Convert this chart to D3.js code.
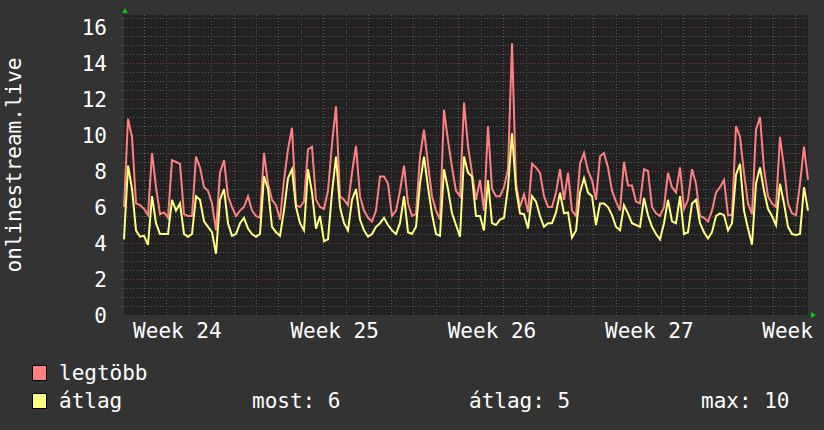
<!DOCTYPE html>
<html>
<head>
<meta charset="utf-8">
<script src="https://cdn.jsdelivr.net/npm/d3@7"></script>
<style>
  body { margin: 0; background: #333333; }
  svg { display: block; }
  text { font-family: "DejaVu Sans Mono", monospace; font-size: 21px; fill: #ffffff; }
</style>
</head>
<body>
<svg id="graph" width="824" height="430"></svg>
<script>
// legtöbb = max, átlag = average, sampled evenly from start to end
var maxVals = [
  6.0, 10.9, 9.9, 6.2, 6.1, 5.9, 5.55, 9.0, 7.1, 5.6,
  5.7, 5.4, 8.6, 8.5, 8.4, 5.6, 5.5, 5.5, 8.8, 8.2,
  7.1, 6.9, 6.2, 4.7, 7.9, 8.6, 6.6, 6.0, 5.5, 5.8,
  6.0, 6.6, 5.8, 5.5, 5.4, 9.0, 7.3, 6.4, 6.1, 5.3,
  7.5, 9.2, 10.4, 6.1, 6.0, 6.3, 9.2, 9.35, 6.4, 6.0,
  5.9, 6.9, 9.5, 11.6, 6.6, 6.4, 6.1, 7.9, 9.4, 6.6,
  5.8, 5.4, 5.2, 5.8, 7.7, 7.7, 7.3, 5.5, 5.8, 6.9,
  8.3, 6.2, 5.5, 5.6, 8.8, 10.3, 8.4, 6.6, 5.8, 5.3,
  11.4, 9.7, 8.2, 6.9, 6.6, 11.8, 9.4, 7.9, 6.4, 7.5,
  5.8, 10.5, 7.0, 6.6, 6.6, 7.1, 8.1, 15.1, 7.3, 6.0,
  6.7, 5.7, 8.4, 8.2, 7.9, 6.6, 6.0, 6.0, 6.8, 8.1,
  6.4, 7.9, 5.8, 5.5, 8.4, 9.0, 8.0, 7.5, 6.4, 8.8,
  9.0, 8.2, 6.9, 6.3, 5.8, 8.5, 7.2, 7.2, 6.3, 6.2,
  8.1, 8.0, 6.0, 5.65, 5.5, 6.0, 7.9, 7.1, 6.8, 8.2,
  5.9, 6.4, 8.1, 7.3, 5.5, 5.4, 5.2, 5.8, 6.8, 7.1,
  7.5, 5.55, 5.55, 10.5, 9.9, 7.9, 6.2, 5.6, 10.3, 11.0,
  8.1, 6.6, 6.2, 6.0, 9.9, 8.2, 6.2, 5.65, 5.55, 7.3,
  9.35, 7.5
];
var avgVals = [
  4.2, 8.3, 7.0, 4.7, 4.35, 4.4, 3.9, 6.6, 5.1, 4.5,
  4.5, 4.5, 6.4, 5.8, 6.2, 4.5, 4.35, 4.5, 6.6, 6.4,
  5.2, 4.9, 4.6, 3.4, 6.4, 7.0, 5.1, 4.4, 4.5, 5.1,
  5.4, 4.8, 4.5, 4.35, 4.5, 7.7, 7.0, 4.9, 4.6, 4.4,
  5.8, 7.6, 8.1, 6.0, 5.1, 4.7, 8.1, 6.8, 4.8, 5.5,
  4.1, 4.2, 6.8, 8.8, 6.0, 5.1, 4.7, 6.4, 7.0, 5.3,
  4.7, 4.35, 4.5, 4.9, 5.1, 5.4, 5.0, 4.7, 4.5, 5.1,
  6.6, 4.6, 4.5, 4.9, 7.3, 8.8, 7.1, 5.6, 4.5, 4.4,
  8.1, 7.0, 5.65, 5.0, 4.35, 8.8, 7.9, 7.7, 5.5, 5.5,
  4.7, 7.5, 5.1, 5.0, 5.3, 5.4, 7.1, 10.1, 7.0, 5.65,
  5.6, 4.8, 6.6, 6.3, 5.5, 4.9, 5.1, 5.1, 5.7, 6.8,
  5.65, 5.7, 4.3, 4.7, 6.8, 7.6, 6.8, 6.6, 5.0, 6.2,
  6.2, 6.0, 5.55, 4.9, 4.7, 6.1, 5.65, 5.1, 5.0, 4.9,
  6.5, 5.55, 4.9, 4.5, 4.2, 5.1, 6.4, 5.2, 5.1, 6.6,
  4.5, 4.6, 6.2, 6.4, 5.1, 4.6, 4.25, 4.6, 5.5, 5.65,
  5.55, 4.7, 5.1, 7.8, 8.4, 5.8, 4.8, 3.9, 7.3, 8.2,
  6.9, 5.9, 5.5, 5.0, 7.3, 6.2, 4.9, 4.5, 4.45, 4.5,
  7.1, 5.8
];
var weekLabels = ["Week 24", "Week 25", "Week 26", "Week 27", "Week 28"];
var yTicks = [0, 2, 4, 6, 8, 10, 12, 14, 16];
var seriesNames = ["legtöbb", "átlag"];
var statNames = ["most", "átlag", "max"];
var statVals = [6, 5, 10];
var yTitle = "onlinestream.live";

var start = new Date(Date.UTC(2023, 5, 13, 3, 0));
var end = new Date(Date.UTC(2023, 6, 13, 13, 30));
var firstMonday = new Date(Date.UTC(2023, 5, 12));

var svg = d3.select("#graph");
var plotL = 124, plotR = 808, plotT = 15, plotB = 315;

var x = d3.scaleUtc().domain([start, end]).range([plotL, plotR]);
var y = d3.scaleLinear().domain([0, 300 / 18]).range([plotB, plotT]);

var step = (end - start) / (maxVals.length - 1);
var times = maxVals.map(function(d, i) { return new Date(+start + i * step); });

// plot area
svg.append("rect")
  .attr("x", plotL).attr("y", plotT)
  .attr("width", plotR - plotL).attr("height", plotB - plotT)
  .attr("fill", "#212121");

var grid = svg.append("g");
// horizontal grid every 0.5, red every 2
d3.range(0.5, 16.6, 0.5).forEach(function(v) {
  var major = v % 2 == 0;
  grid.append("line")
    .attr("x1", plotL - 3).attr("x2", plotR)
    .attr("y1", Math.round(y(v)) + 0.5).attr("y2", Math.round(y(v)) + 0.5)
    .attr("stroke", major ? "#7a4242" : "#5c5c5c")
    .attr("stroke-dasharray", "1,2");
});
// day grid, red on week start
d3.utcDay.range(start, end).forEach(function(d) {
  var major = d.getUTCDay() == 1;
  grid.append("line")
    .attr("x1", Math.round(x(d)) + 0.5).attr("x2", Math.round(x(d)) + 0.5)
    .attr("y1", plotT).attr("y2", plotB + 3)
    .attr("stroke", major ? "#7a4242" : "#5c5c5c")
    .attr("stroke-dasharray", "1,2");
});

// lines
var line = d3.line()
  .x(function(d, i) { return x(times[i]); })
  .y(function(d) { return y(d); });

svg.append("path").datum(maxVals)
  .attr("d", line)
  .attr("fill", "none")
  .attr("stroke", "#ff8080")
  .attr("stroke-width", 2);

svg.append("path").datum(avgVals)
  .attr("d", line)
  .attr("fill", "none")
  .attr("stroke", "#ffff80")
  .attr("stroke-width", 2);

// axis arrows
svg.append("path").attr("d", "M122,13 L128,13 L125,8 Z").attr("fill", "#00cc00");
svg.append("path").attr("d", "M811,312 L811,318 L816,315 Z").attr("fill", "#00cc00");

// y labels
svg.selectAll(".ylab").data(yTicks).enter().append("text")
  .attr("x", 107)
  .attr("y", function(d) { return y(d) + 8; })
  .attr("text-anchor", "end")
  .text(function(d) { return d; });

// week labels centred on each week
svg.selectAll(".xlab").data(weekLabels).enter().append("text")
  .attr("x", function(d, i) { return x(d3.utcHour.offset(d3.utcWeek.offset(firstMonday, i), 84)); })
  .attr("y", 338)
  .attr("text-anchor", "middle")
  .text(function(d) { return d; });

svg.append("text")
  .attr("transform", "translate(21,165) rotate(-90)")
  .attr("text-anchor", "middle")
  .text(yTitle);

// legend
var colors = ["#ff8080", "#ffff80"];
seriesNames.forEach(function(n, i) {
  svg.append("rect")
    .attr("x", 32.5).attr("y", 365.5 + i * 28)
    .attr("width", 14).attr("height", 15)
    .attr("fill", colors[i]).attr("stroke", "#000000");
  svg.append("text").attr("x", 59).attr("y", 380 + i * 28).text(n);
});
var statX = [252, 469, 701];
statNames.forEach(function(n, i) {
  svg.append("text").attr("x", statX[i]).attr("y", 408).text(n + ": " + statVals[i]);
});
</script>
</body>
</html>
